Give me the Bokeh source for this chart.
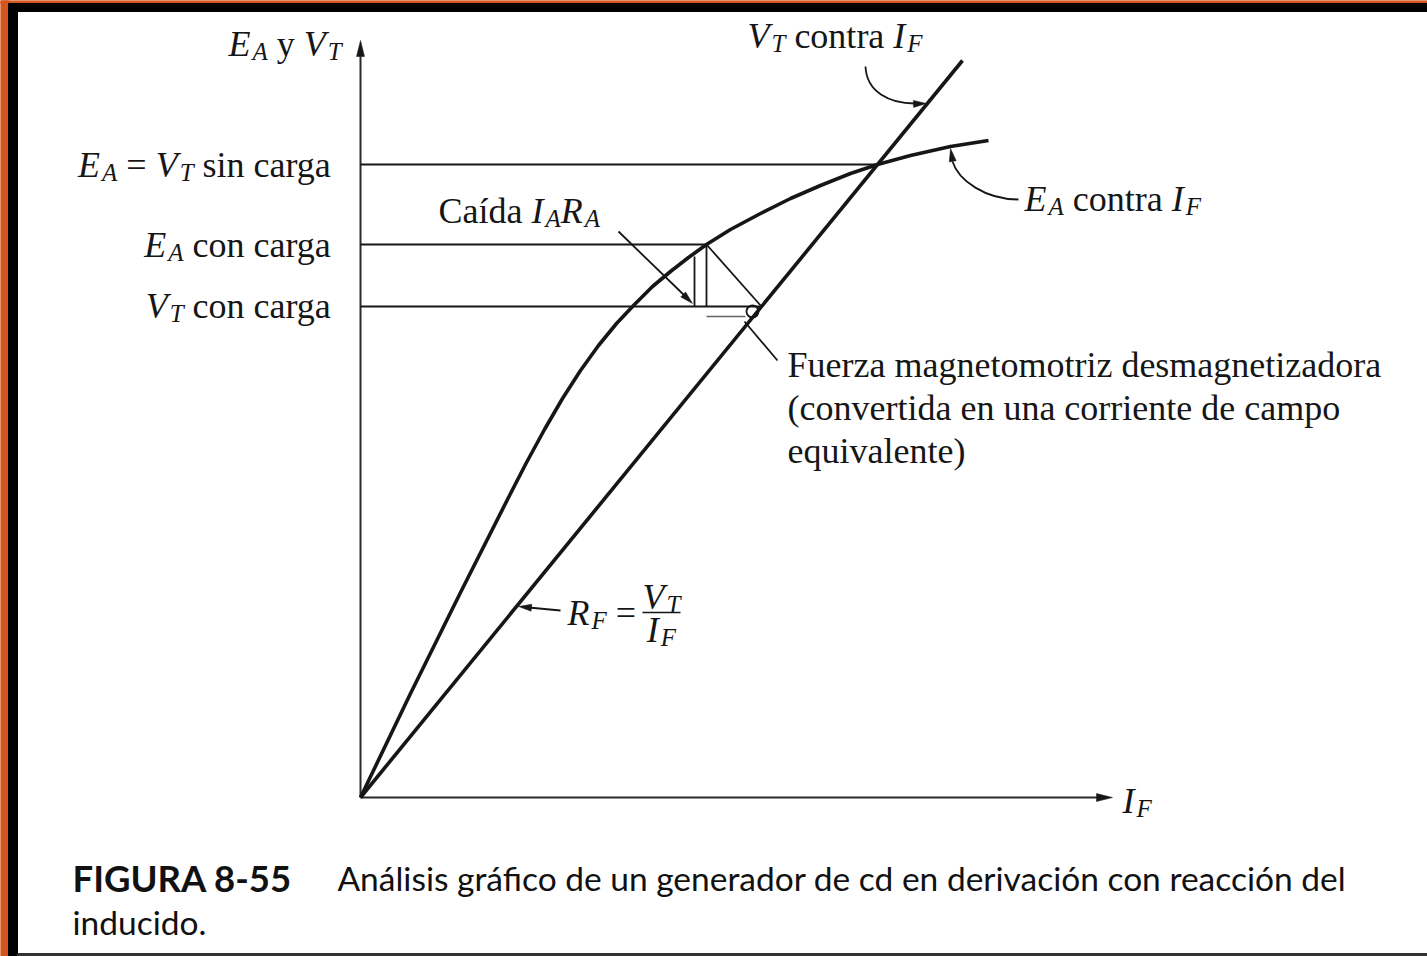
from bokeh.plotting import figure
from bokeh.models import Range1d
from bokeh.core.properties import value
from bokeh.embed import file_html
from bokeh.resources import INLINE

# ---- data (diagram units: field current I_F, voltages E_A and V_T) ----
# open-circuit magnetization curve E_A vs I_F
if_ea = [0, 50, 100, 148, 166, 184, 202, 220, 238, 256, 274, 292, 310, 328, 346,
         370, 400, 430, 460, 490, 517, 550, 590, 628]
ea_curve = [0, 104, 205, 300, 335, 368, 399, 427, 452, 474, 493, 511, 526, 540, 553,
            568, 584, 599, 612, 624, 633, 642, 651, 657]
# field-resistance line V_T = R_F * I_F
if_rf = [0, 602]
vt_rf = [0, 737]
# operating levels
ea_no_load = 633      # E_A = V_T at no load (intersection)
if_no_load = 517
ea_loaded = 553       # E_A with load
if_ea_loaded = 346
vt_loaded = 491       # V_T with load
if_vt_loaded = 401
if_drop_mark = 334    # second stroke of the I_A R_A drop marker
vt_drop_mark_top = 541

# axis extents
if_axis_end = 752
v_axis_end = 757

INK = "#161616"
SERIF = "Liberation Serif"
SANS = "Lato"
FS = 36
SUB = 25
SUB_DY = 8
SUB_GAP = 2
BASE_FIX = -12   # baseline correction for the text glyphs

W, H = 1427, 956
OX, OY = 360, 797  # page position of the origin


def X(px):
    return px - OX


def Y(py):
    return OY - py


p = figure(width=W, height=H, x_range=Range1d(X(0), X(W)), y_range=Range1d(Y(H), Y(0)),
           x_axis_type=None, y_axis_type=None, toolbar_location=None,
           output_backend="svg", min_border=0, outline_line_color=None,
           background_fill_color="white", border_fill_color="white")

# ---- page frame ----
ORANGE = "#d4561c"
p.quad(left=[X(0)], right=[X(8)], bottom=[Y(H)], top=[Y(0)], color=ORANGE)
p.quad(left=[X(0)], right=[X(W)], bottom=[Y(3)], top=[Y(0)], color=ORANGE)
p.quad(left=[X(8)], right=[X(17)], bottom=[Y(H)], top=[Y(3)], color="black")
p.quad(left=[X(8)], right=[X(W)], bottom=[Y(11)], top=[Y(3)], color="black")
p.quad(left=[X(17)], right=[X(W)], bottom=[Y(956)], top=[Y(953)], color="#333333")


def head(tip, frm, length=13, width=7):
    """Filled arrowhead at tip, pointing away from frm (data coords)."""
    tx, ty = tip
    fx, fy = frm
    dx, dy = tx - fx, ty - fy
    n = (dx * dx + dy * dy) ** 0.5
    ux, uy = dx / n, dy / n
    bx, by = tx - ux * length, ty - uy * length
    nx, ny = -uy, ux
    xs = [tx, bx + nx * width / 2, bx - nx * width / 2]
    ys = [ty, by + ny * width / 2, by - ny * width / 2]
    p.patch(xs, ys, color=INK, line_width=0.5)


# ---- axes ----
p.line([0, 0], [0, v_axis_end - 10], line_color="#2a2a2a", line_width=2)
head((0, v_axis_end), (0, 0), length=16, width=8)
p.line([0, if_axis_end - 10], [0, 0], line_color="#2a2a2a", line_width=2)
head((if_axis_end, 0), (0, 0), length=16, width=8)

# ---- guide lines at the operating levels ----
p.line([0, if_no_load], [ea_no_load, ea_no_load], line_color=INK, line_width=1.8)
p.line([0, if_ea_loaded], [ea_loaded, ea_loaded], line_color=INK, line_width=1.8)
p.line([0, if_vt_loaded], [vt_loaded, vt_loaded], line_color=INK, line_width=1.8)

# I_A R_A drop triangle
p.line([if_ea_loaded, if_ea_loaded], [ea_loaded, vt_loaded], line_color=INK, line_width=1.8)
p.line([if_drop_mark, if_drop_mark], [vt_drop_mark_top, vt_loaded], line_color=INK, line_width=1.8)
p.line([if_ea_loaded, if_vt_loaded], [ea_loaded, vt_loaded], line_color=INK, line_width=1.8)

# demagnetizing mmf marker
p.line([if_ea_loaded, if_vt_loaded - 16], [vt_loaded - 10, vt_loaded - 10], line_color="#666666", line_width=1.3)
p.scatter([if_vt_loaded - 9], [vt_loaded - 5], size=12, marker="circle", fill_color=None,
          line_color=INK, line_width=1.8)

# ---- curves ----
p.line(if_rf, vt_rf, line_color=INK, line_width=3.6)
p.line(if_ea, ea_curve, line_color=INK, line_width=3.6, line_join="round")

# ---- pointers ----
# V_T contra I_F
p.bezier(x0=[X(865)], y0=[Y(66)], x1=[X(914)], y1=[Y(103)],
         cx0=[X(866)], cy0=[Y(92)], cx1=[X(890)], cy1=[Y(103)], line_color=INK, line_width=1.8)
head((X(926), Y(103)), (X(910), Y(103.5)))
# E_A contra I_F
p.bezier(x0=[X(1018)], y0=[Y(199)], x1=[X(952)], y1=[Y(161)],
         cx0=[X(985)], cy0=[Y(199)], cx1=[X(958)], cy1=[Y(180)], line_color=INK, line_width=1.8)
head((X(950), Y(148)), (X(953), Y(165)))
# Caída I_A R_A
p.line([X(618), X(684)], [Y(231), Y(295)], line_color=INK, line_width=1.8)
head((X(692), Y(303)), (X(618), Y(231)))
# Fuerza magnetomotriz
p.line([X(744), X(777)], [Y(321), Y(360)], line_color=INK, line_width=1.8)
# R_F
p.line([X(560), X(528)], [Y(610), Y(607)], line_color=INK, line_width=1.8)
head((X(518), Y(606)), (X(560), Y(610)))

# ---- text layout with subscripts ----
W_REG = {" ": 250, "(": 333, ")": 333, "-": 333, ".": 250, "=": 564,
         "a": 444, "b": 500, "c": 444, "d": 500, "e": 444, "f": 333, "g": 500, "h": 500,
         "i": 278, "j": 278, "k": 500, "l": 278, "m": 778, "n": 500, "o": 500, "p": 500,
         "q": 500, "r": 333, "s": 389, "t": 278, "u": 500, "v": 500, "w": 722, "x": 500,
         "y": 500, "z": 444, "í": 278, "ó": 500, "á": 444, "é": 444, "C": 667, "F": 556}
W_ITA = {"A": 611, "E": 611, "F": 611, "I": 333, "R": 611, "T": 556, "V": 611}


def run_width(t, style, sub):
    size = SUB if sub else FS
    table = W_ITA if style == "i" else W_REG
    w = sum(table.get(c, 500) for c in t) / 1000 * size
    return w + (SUB_GAP if sub else 0)


def place(runs, x, base, align="left"):
    total = sum(run_width(*r) for r in runs)
    if align == "right":
        x -= total
    elif align == "center":
        x -= total / 2
    for t, style, sub in runs:
        size = SUB if sub else FS
        yb = base + BASE_FIX + (SUB_DY if sub else 0)
        lead = len(t) - len(t.lstrip(" "))
        body = t.strip(" ")
        bx = x + (SUB_GAP if sub else 0) + lead * W_REG[" "] / 1000 * size
        if body:
            p.text(x=[X(bx)], y=[Y(yb)], text=[body], text_font=value(SERIF),
                   text_font_style="italic" if style == "i" else "normal",
                   text_font_size=f"{size}px", text_baseline="alphabetic", text_align="left",
                   text_color=INK)
        x += run_width(t, style, sub)


place([("E", "i", 0), ("A", "i", 1), (" y ", "r", 0), ("V", "i", 0), ("T", "i", 1)], 228, 55)
place([("V", "i", 0), ("T", "i", 1), (" contra ", "r", 0), ("I", "i", 0), ("F", "i", 1)], 747, 47)
place([("E", "i", 0), ("A", "i", 1), (" = ", "r", 0), ("V", "i", 0), ("T", "i", 1),
       (" sin carga", "r", 0)], 331, 176, "right")
place([("E", "i", 0), ("A", "i", 1), (" con carga", "r", 0)], 331, 256, "right")
place([("V", "i", 0), ("T", "i", 1), (" con carga", "r", 0)], 331, 317, "right")
place([("Caída ", "r", 0), ("I", "i", 0), ("A", "i", 1), ("R", "i", 0), ("A", "i", 1)], 438, 222)
place([("E", "i", 0), ("A", "i", 1), (" contra ", "r", 0), ("I", "i", 0), ("F", "i", 1)], 1024, 210)
place([("Fuerza magnetomotriz desmagnetizadora", "r", 0)], 787, 376)
place([("(convertida en una corriente de campo", "r", 0)], 787, 419)
place([("equivalente)", "r", 0)], 787, 462)
place([("R", "i", 0), ("F", "i", 1), (" =", "r", 0)], 567, 624)
place([("V", "i", 0), ("T", "i", 1)], 661, 608, "center")
place([("I", "i", 0), ("F", "i", 1)], 661, 641, "center")
p.line([X(642), X(680)], [Y(612), Y(612)], line_color=INK, line_width=1.6)
place([("I", "i", 0), ("F", "i", 1)], 1122, 812)

# ---- caption ----
p.text(x=[X(72)], y=[Y(889 + BASE_FIX)], text=["FIGURA 8-55"], text_font=value(SANS),
       text_font_style="bold", text_font_size="36.5px", text_baseline="alphabetic",
       text_color="#111111")
p.text(x=[X(337)], y=[Y(889 + BASE_FIX)],
       text=["Análisis gráfico de un generador de cd en derivación con reacción del"],
       text_font=value(SANS), text_font_size="33.5px", text_baseline="alphabetic",
       text_color="#111111")
p.text(x=[X(72)], y=[Y(933 + BASE_FIX)], text=["inducido."], text_font=value(SANS),
       text_font_size="33.5px", text_baseline="alphabetic", text_color="#111111")

open("out.html", "w").write(file_html(p, INLINE))
